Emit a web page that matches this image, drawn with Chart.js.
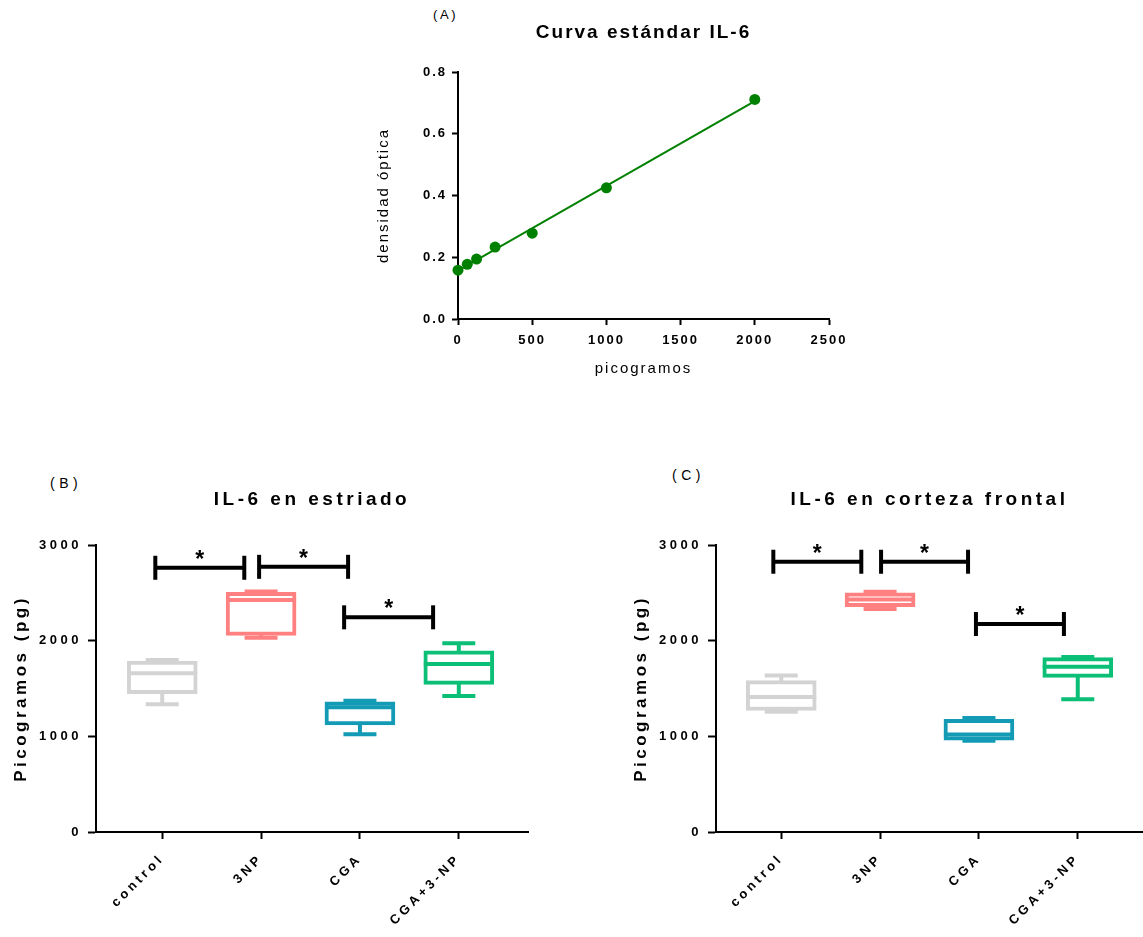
<!DOCTYPE html>
<html>
<head>
<meta charset="utf-8">
<script src="https://cdn.jsdelivr.net/npm/chart.js@4.4.1/dist/chart.umd.min.js"></script>
<style>
  html, body { margin: 0; padding: 0; background: #fff; overflow: hidden; }
  body { width: 1143px; height: 937px; position: relative; }
  canvas { position: absolute; }
  .tag { position: absolute; font-family: 'Liberation Sans', Arial, sans-serif; color: #000; line-height: 1; }
</style>
</head>
<body>
<div class="tag" style="left:433px; top:8px; font-size:13px; letter-spacing:2.6px;">(A)</div>
<div class="tag" style="left:50px; top:476px; font-size:14px; letter-spacing:4.5px;">(B)</div>
<div class="tag" style="left:672px; top:468px; font-size:14px; letter-spacing:4.5px;">(C)</div>
<canvas id="curva" width="500" height="400" style="left:360px; top:0;"></canvas>
<canvas id="estriado" width="560" height="497" style="left:0; top:440px;"></canvas>
<canvas id="corteza" width="523" height="497" style="left:620px; top:440px;"></canvas>
<script>
// standard curve: concentration (pg) vs optical density
const stdConc = [0, 62.5, 125, 250, 500, 1000, 2000];
const stdOD = [0.158, 0.177, 0.194, 0.233, 0.278, 0.425, 0.711];
// fitted straight line, end points
const fitConc = [0, 2000];
const fitOD = [0.157, 0.706];

const groups = ['control', '3NP', 'CGA', 'CGA+3-NP'];
const groupColors = ['#d3d3d3', '#ff8080', '#139bb6', '#0bbf77'];

// IL-6 in striatum (pg): min, Q1, median, Q3, max
const striadoMin = [1335, 2030, 1021, 1422];
const striadoQ1 = [1446, 2055, 1118, 1543];
const striadoMed = [1659, 2425, 1303, 1756];
const striadoQ3 = [1787, 2505, 1361, 1895];
const striadoMax = [1798, 2515, 1372, 1972];
// significance brackets (x in group units)
const striadoSigFrom = [-0.07, 0.98, 1.84];
const striadoSigTo = [0.83, 1.88, 2.74];
const striadoSigY = [2762, 2772, 2244];

// IL-6 in frontal cortex (pg)
const cortezaMin = [1258, 2332, 955, 1387];
const cortezaQ1 = [1270, 2355, 960, 1617];
const cortezaMed = [1412, 2430, 1018, 1728];
const cortezaQ3 = [1582, 2500, 1178, 1822];
const cortezaMax = [1637, 2512, 1192, 1830];
const cortezaSigFrom = [-0.08, 1.01, 1.97];
const cortezaSigTo = [0.81, 1.89, 2.86];
const cortezaSigY = [2825, 2825, 2174];

const sigLabels = ['*', '*', '*'];

const FONT = "'Liberation Sans', Arial, sans-serif";
Chart.defaults.font.family = FONT;
Chart.defaults.color = '#000';

// Prism-like wide tracking for every text drawn on the canvas
const letterSpacing = {
  id: 'letterSpacing',
  beforeDraw(chart, args, opts) {
    chart.ctx.letterSpacing = opts.value;
  }
};

// asterisks above the significance brackets
const sigStars = {
  id: 'sigStars',
  afterDatasetsDraw(chart, args, opts) {
    if (!opts.from) return;
    const { ctx, scales: { x, y } } = chart;
    ctx.save();
    ctx.letterSpacing = '0px';
    ctx.font = 'bold 23px ' + FONT;
    ctx.fillStyle = '#000';
    ctx.textAlign = 'center';
    ctx.textBaseline = 'alphabetic';
    opts.from.forEach((a, k) => {
      const cx = x.getPixelForValue((a + opts.to[k]) / 2);
      ctx.fillText(opts.labels[k], cx, y.getPixelForValue(opts.level[k]) - 1);
    });
    ctx.restore();
  }
};

function axisGrid(len) {
  return { drawOnChartArea: false, tickLength: len, tickWidth: 2, tickColor: '#000' };
}

// keep the plot area where the fixed axis sizes put it
function noLabelPadding(s) {
  s.paddingLeft = 0;
  s.paddingRight = 0;
  s.paddingTop = 0;
  s.paddingBottom = 0;
}

// ---- (A) standard curve ----
const green = '#008000';
new Chart(document.getElementById('curva'), {
  type: 'scatter',
  data: {
    datasets: [
      {
        data: stdConc.map((x, i) => ({ x: x, y: stdOD[i] })),
        pointRadius: 5.5,
        pointBackgroundColor: green,
        pointBorderWidth: 0,
        clip: false,
        order: 1
      },
      {
        type: 'line',
        data: fitConc.map((x, i) => ({ x: x, y: fitOD[i] })),
        borderColor: green,
        borderWidth: 2,
        pointRadius: 0,
        clip: false,
        order: 2
      }
    ]
  },
  options: {
    responsive: false,
    animation: false,
    events: [],
    layout: { autoPadding: false, padding: { left: 0, right: 31, top: 0, bottom: 0 } },
    plugins: {
      legend: { display: false },
      tooltip: { enabled: false },
      title: {
        display: true,
        text: 'Curva estándar IL-6',
        fullSize: false,
        font: { size: 19, weight: 'bold' },
        padding: { top: 21.6, bottom: 27.6 }
      },
      letterSpacing: { value: '2px' }
    },
    scales: {
      x: {
        type: 'linear',
        min: 0,
        max: 2500,
        ticks: { stepSize: 500, padding: 8, font: { size: 13, weight: 'bold' }, callback: v => String(v) },
        grid: axisGrid(6),
        border: { color: '#000', width: 2 },
        title: { display: true, text: 'picogramos', font: { size: 15 }, padding: { top: 0, bottom: 22 } },
        afterFit: s => { s.height = 81; noLabelPadding(s); }
      },
      y: {
        min: 0,
        max: 0.8,
        ticks: { stepSize: 0.2, padding: 5, font: { size: 13, weight: 'bold' }, callback: v => v.toFixed(1) },
        grid: axisGrid(6),
        border: { color: '#000', width: 2 },
        title: { display: true, text: 'densidad óptica', font: { size: 15 }, padding: { top: 15, bottom: 0 } },
        afterFit: s => { s.width = 98; noLabelPadding(s); }
      }
    }
  },
  plugins: [letterSpacing]
});

// ---- (B) and (C) box plots ----
function boxPlot(canvasId, title, mins, q1s, meds, q3s, maxs, sigFrom, sigTo, sigY, xMin, xMax, padRight) {
  const datasets = [];
  // whisker stems with caps
  groups.forEach((g, i) => {
    datasets.push({
      type: 'line',
      data: [{ x: i, y: mins[i] }, { x: i, y: maxs[i] }],
      borderColor: groupColors[i],
      borderWidth: 4,
      pointStyle: 'line',
      pointRadius: 16.5,
      pointBorderWidth: 4,
      pointBorderColor: groupColors[i],
      clip: false,
      order: 3
    });
  });
  // boxes Q1..Q3
  datasets.push({
    type: 'bar',
    data: groups.map((g, i) => ({ x: i, y: [q1s[i], q3s[i]] })),
    backgroundColor: '#fff',
    borderColor: groupColors,
    borderWidth: 4,
    borderSkipped: false,
    barThickness: 70,
    grouped: false,
    order: 2
  });
  // medians
  datasets.push({
    type: 'scatter',
    data: groups.map((g, i) => ({ x: i, y: meds[i] })),
    pointStyle: 'line',
    pointRadius: 35,
    pointBorderWidth: 4,
    pointBorderColor: groupColors,
    clip: false,
    order: 1
  });
  // significance brackets
  sigFrom.forEach((a, k) => {
    datasets.push({
      type: 'line',
      data: [{ x: a, y: sigY[k] }, { x: sigTo[k], y: sigY[k] }],
      borderColor: '#000',
      borderWidth: 4,
      pointStyle: 'line',
      pointRotation: 90,
      pointRadius: 12,
      pointBorderWidth: 4,
      pointBorderColor: '#000',
      clip: false,
      order: 0
    });
  });

  return new Chart(document.getElementById(canvasId), {
    type: 'bar',
    data: { datasets: datasets },
    options: {
      responsive: false,
      animation: false,
      events: [],
      layout: { autoPadding: false, padding: { left: 0, right: padRight, top: 0, bottom: 0 } },
      plugins: {
        legend: { display: false },
        tooltip: { enabled: false },
        title: {
          display: true,
          text: title,
          fullSize: false,
          font: { size: 19, weight: 'bold' },
          padding: { top: 48.6, bottom: 33.6 }
        },
        letterSpacing: { value: '3.5px' },
        sigStars: { from: sigFrom, to: sigTo, level: sigY, labels: sigLabels }
      },
      scales: {
        x: {
          type: 'linear',
          min: xMin,
          max: xMax,
          offset: false,
          ticks: {
            stepSize: 1,
            includeBounds: false,
            minRotation: 45,
            maxRotation: 45,
            padding: 12,
            font: { size: 13, weight: 'bold' },
            callback: v => groups[v]
          },
          grid: Object.assign(axisGrid(7), { offset: false }),
          border: { color: '#000', width: 2 },
          afterFit: s => { s.height = 105; noLabelPadding(s); }
        },
        y: {
          min: 0,
          max: 3000,
          ticks: { stepSize: 1000, padding: 6, font: { size: 13, weight: 'bold' }, callback: v => String(v) },
          grid: axisGrid(8),
          border: { color: '#000', width: 2 },
          title: { display: true, text: 'Picogramos (pg)', font: { size: 17, weight: 'bold' }, padding: { top: 10.8, bottom: 0 } },
          afterFit: s => { s.width = 96; noLabelPadding(s); }
        }
      }
    },
    plugins: [letterSpacing, sigStars]
  });
}

boxPlot('estriado', 'IL-6 en estriado', striadoMin, striadoQ1, striadoMed, striadoQ3, striadoMax,
  striadoSigFrom, striadoSigTo, striadoSigY, -0.67, 3.7, 32);
boxPlot('corteza', 'IL-6 en corteza frontal', cortezaMin, cortezaQ1, cortezaMed, cortezaQ3, cortezaMax,
  cortezaSigFrom, cortezaSigTo, cortezaSigY, -0.66, 3.66, 0);
</script>
</body>
</html>
